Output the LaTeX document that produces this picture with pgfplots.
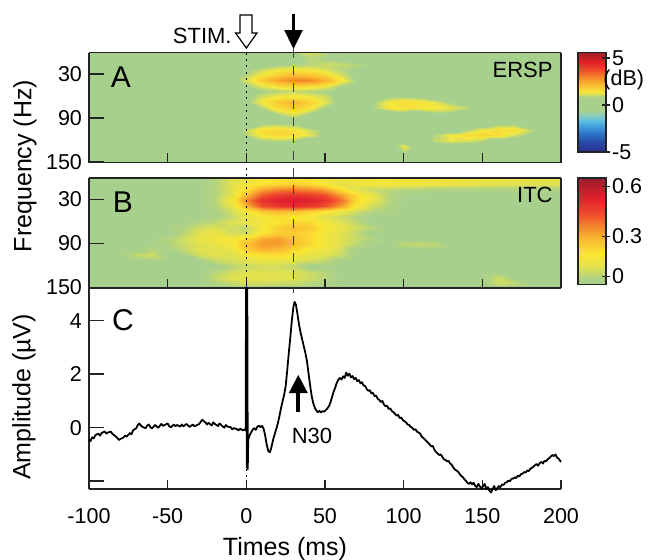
\documentclass[border=0pt]{standalone}
\usepackage{fontspec}
\setmainfont{Liberation Sans}
\usepackage{pgfplots}
\pgfplotsset{compat=1.18}
\definecolor{axgray}{RGB}{35,35,35}
\pgfplotsset{
  colormap={ersp}{rgb255(0pt)=(40,45,140) rgb255(10pt)=(40,75,170) rgb255(20pt)=(45,125,205) rgb255(30pt)=(80,185,230) rgb255(37pt)=(140,205,190) rgb255(41pt)=(168,208,141) rgb255(55pt)=(168,208,141) rgb255(60pt)=(245,232,60) rgb255(66pt)=(250,195,50) rgb255(74pt)=(245,145,40) rgb255(82pt)=(238,80,40) rgb255(90pt)=(228,35,40) rgb255(100pt)=(160,30,40)},
  colormap={itc}{rgb255(0pt)=(168,208,141) rgb255(4pt)=(178,211,128) rgb255(10pt)=(225,225,80) rgb255(17pt)=(250,230,50) rgb255(25pt)=(250,190,50) rgb255(32pt)=(245,140,45) rgb255(40pt)=(240,75,45) rgb255(48pt)=(225,35,45) rgb255(56pt)=(180,30,45) rgb255(60pt)=(150,30,45)},
  every axis/.append style={
    tick label style={font=\fontsize{10.75}{12}\selectfont},
    axis line style={draw=axgray, line width=0.75pt},
    tick style={draw=axgray, line width=0.75pt},
  },
}
\newcommand{\fs}[1]{\fontsize{#1}{#1}\selectfont}
\begin{document}
\begin{tikzpicture}
\path[use as bounding box] (0,0) rectangle (325pt,-279.5pt);
% ---------------- Panel A : ERSP ----------------
\begin{axis}[
  at={(44.5pt,-81.25pt)}, anchor=south west,
  width=236pt, height=55pt, scale only axis,
  view={0}{90},
  xmin=-100, xmax=200, ymin=-151, ymax=-1,
  colormap name=ersp, point meta min=-5, point meta max=5,
  axis on top, tick align=inside, tick pos=left,
  xtick={-100,-50,0,50,100,150,200}, xticklabels={{},{},{},{},{},{},{}},
  ytick={-150,-90,-30}, yticklabels={150,90,30},
  major tick length=4.75pt,
  ytick style={/pgfplots/major tick length=7.5pt},
  colorbar,
  colorbar style={
    at={([xshift=6.15pt,yshift=-0.4pt]parent axis.north east)}, anchor=north west,
    width=14pt, height=49.7pt, scale only axis,
    ytick={-5,-0.3,4.45}, yticklabels={-5,0,5},
    ytick pos=right, yticklabel pos=right, tick align=center,
    major tick length=4pt,
    yticklabel style={xshift=-2.5pt},
    axis line style={draw=axgray, line width=0.6pt},
  },
]
\addplot3[surf, shader=interp, mesh/cols=31] table[row sep=\\, x expr={-100+10*mod(\coordindex,31)}, y expr={-1-7.5*floor(\coordindex/31)}, z index=0] {
z\\
0\\0\\0\\0\\0\\0\\0\\0\\0\\0\\0\\0\\0\\0.5\\0.8\\0.6\\0\\0\\0\\0\\0\\0\\0\\0\\0\\0\\0\\0\\0\\0\\0\\
0\\0\\0\\0\\0\\0\\0\\0\\0\\0\\0\\0\\0\\0.4\\0.6\\0.5\\0.3\\0\\0\\0\\0\\0\\0\\0\\0\\0\\0\\0\\0\\0\\0\\
0\\0\\0\\0\\0\\0\\0\\0\\0\\0\\0\\0.2\\0.4\\0.5\\0.6\\0.7\\0.7\\0.6\\0.5\\0.3\\0\\0\\0\\0\\0\\0\\0\\0\\0\\0\\0\\
0\\0\\0\\0\\0\\0\\0\\0\\0\\0.2\\0.4\\0.7\\0.9\\1\\0.95\\0.8\\0.6\\0.5\\0.4\\0.2\\0\\0\\0\\0\\0\\0\\0\\0\\0\\0\\0\\
0\\0\\0\\0\\0\\0\\0\\0\\0\\0.3\\0.6\\1\\1.4\\1.7\\1.6\\1.3\\0.8\\0.4\\0.2\\0\\0\\0\\0\\0\\0\\0\\0\\0\\0\\0\\-0.6\\
0\\0\\0\\0\\0\\0\\0\\0\\0\\0.3\\0.8\\1.5\\2.1\\2.6\\2.5\\1.9\\1.1\\0.5\\0.2\\0\\0\\0\\0\\0\\0\\0\\0\\0\\0\\0\\-1.2\\
0\\0\\0\\0\\0\\0\\0\\0\\0\\0.2\\0.5\\0.9\\1.2\\1.3\\1.2\\1\\0.5\\0.2\\0\\0\\0\\0\\0\\0\\0\\0\\0\\0\\0\\0\\-0.4\\
0\\0\\0\\0\\0\\0\\0\\0\\0\\0\\0.3\\0.5\\0.6\\0.7\\0.6\\0.5\\0.3\\0\\0\\0\\0\\0\\0\\0\\0\\0\\0\\0\\0\\0\\0\\
0\\0\\0\\0\\0\\0\\0\\0\\0\\0\\0.3\\0.8\\1\\1.1\\1\\0.8\\0.3\\0\\0\\0.5\\0.6\\0.5\\0\\0\\0\\0\\0\\0\\0\\0\\0\\
0\\0\\0\\0\\0\\0\\0\\0\\0\\0\\0.4\\1\\1.5\\1.8\\1.4\\0.9\\0.3\\0\\0.5\\1\\1.2\\1.1\\0.9\\0.5\\0\\0\\0\\0\\0\\0\\0\\
0\\0\\0\\0\\0\\0\\0\\0\\0\\0\\0\\0.6\\1.2\\1.5\\1.1\\0.5\\0\\0\\0.5\\1\\1.1\\1.05\\1\\0.9\\0.7\\0\\0\\0\\0\\0\\0\\
0\\0\\0\\0\\0\\0\\0\\0\\0\\0\\0\\0\\0.7\\1\\0.6\\0\\0\\0\\0\\0\\0.4\\0\\0.5\\0.5\\0\\0\\0\\0\\0\\0\\0\\
0\\0\\0\\0\\0\\0\\0\\0\\0\\0\\0\\0\\0\\0.5\\0\\0\\0\\0\\0\\0\\0\\0\\0\\0\\0\\0\\0\\0\\0\\0\\0\\
0\\0\\0\\0\\0\\0\\0\\0\\0\\0\\0\\0.5\\0.6\\0.5\\0\\0\\0\\0\\0\\0\\0\\0\\0\\0\\0\\0\\0.5\\0.5\\0\\0\\0\\
0\\0\\0\\0\\0\\0\\0\\0\\0\\0\\0.7\\1.2\\1.3\\1.1\\0.8\\0.4\\0\\0\\0\\0\\0\\0\\0\\0\\0.6\\1\\1.2\\1.2\\0.7\\0\\0\\
0\\0\\0\\0\\0\\0\\0\\0\\0\\0\\0.6\\1.1\\1.3\\1.2\\0.9\\0.4\\0\\0\\0\\0\\0\\0\\0.6\\1\\1.2\\1.3\\1.2\\0.8\\0.4\\0\\0\\
0\\0\\0\\0\\0\\0\\0\\0\\0\\0\\0\\0.5\\0.6\\0.5\\0\\0\\0\\0\\0\\0\\0\\0\\0.7\\0.9\\0.8\\0.6\\0\\0\\0\\0\\0\\
0\\0\\0\\0\\0\\0\\0\\0\\0\\0\\0\\0\\0\\0\\0\\0\\0\\0\\0\\0\\0.95\\0\\0\\0\\0\\0\\0\\0\\0\\0\\0\\
0\\0\\0\\0\\0\\0\\0\\0\\0\\0\\0\\0\\0\\0\\0\\0\\0\\0\\0\\0\\0.6\\0\\0\\0\\0\\0\\0\\0\\0\\0\\0\\
0\\0\\0\\0\\0\\0\\0\\0\\0\\0\\0\\0\\0\\0\\0\\0\\0\\0\\0\\0\\0\\0\\0\\0\\0\\0\\0\\0\\0\\0\\0\\
0\\0\\0\\0\\0\\0\\0\\0\\0\\0\\0\\0\\0\\0\\0\\0\\0\\0\\0\\0\\0\\0\\0\\0\\0\\0\\0\\0\\0\\0\\0\\
};
\end{axis}
% ---------------- Panel B : ITC ----------------
\begin{axis}[
  at={(44.5pt,-144pt)}, anchor=south west,
  width=236pt, height=55pt, scale only axis,
  view={0}{90},
  xmin=-100, xmax=200, ymin=-151, ymax=-1,
  colormap name=itc, point meta min=0, point meta max=0.6,
  axis on top, tick align=inside, tick pos=left,
  xtick={-100,-50,0,50,100,150,200}, xticklabels={{},{},{},{},{},{},{}},
  ytick={-150,-90,-30}, yticklabels={150,90,30},
  major tick length=4.75pt,
  ytick style={/pgfplots/major tick length=7.5pt},
  colorbar,
  colorbar style={
    at={([xshift=6.15pt,yshift=3.15pt]parent axis.north east)}, anchor=north west,
    width=14pt, height=53.3pt, scale only axis,
    ytick={0.047,0.272,0.553}, yticklabels={0,0.3,0.6},
    ytick pos=right, yticklabel pos=right, tick align=center,
    major tick length=4pt,
    yticklabel style={xshift=-2.5pt},
    axis line style={draw=axgray, line width=0.6pt},
  },
]
\addplot3[surf, shader=interp, mesh/cols=31] table[row sep=\\, x expr={-100+10*mod(\coordindex,31)}, y expr={-1-7.5*floor(\coordindex/31)}, z index=0] {
z\\
0\\0\\0\\0\\0\\0\\0\\0\\0.05\\0.1\\0.12\\0.14\\0.16\\0.17\\0.16\\0.15\\0.13\\0.14\\0.15\\0.16\\0.16\\0.16\\0.15\\0.15\\0.14\\0.14\\0.13\\0.13\\0.12\\0.12\\0.12\\
0\\0\\0\\0\\0\\0\\0\\0\\0.04\\0.1\\0.14\\0.18\\0.2\\0.22\\0.2\\0.16\\0.12\\0.14\\0.15\\0.15\\0.14\\0.14\\0.13\\0.12\\0.12\\0.11\\0.11\\0.1\\0.1\\0.1\\0.1\\
0\\0\\0\\0\\0\\0\\0\\0\\0.04\\0.1\\0.18\\0.28\\0.32\\0.33\\0.32\\0.28\\0.18\\0.1\\0.07\\0.06\\0.05\\0.04\\0.03\\0.03\\0.03\\0.03\\0.03\\0.03\\0.03\\0.03\\0.03\\
0\\0\\0\\0\\0\\0\\0\\0\\0.04\\0.1\\0.25\\0.38\\0.43\\0.45\\0.43\\0.4\\0.3\\0.2\\0.12\\0.05\\0\\0\\0\\0\\0\\0\\0\\0\\0\\0\\0\\
0\\0\\0\\0\\0\\0\\0\\0\\0.05\\0.14\\0.32\\0.45\\0.49\\0.5\\0.49\\0.45\\0.36\\0.2\\0.12\\0.05\\0\\0\\0\\0\\0\\0\\0\\0\\0\\0\\0\\
0\\0\\0\\0\\0\\0\\0\\0\\0.04\\0.12\\0.26\\0.4\\0.44\\0.46\\0.44\\0.4\\0.3\\0.16\\0.08\\0.04\\0\\0\\0\\0\\0\\0\\0\\0\\0\\0\\0\\
0\\0\\0\\0\\0\\0\\0\\0\\0.03\\0.08\\0.16\\0.24\\0.26\\0.25\\0.22\\0.18\\0.12\\0.08\\0.04\\0.02\\0\\0\\0\\0\\0\\0\\0\\0\\0\\0\\0\\
0\\0\\0\\0\\0\\0\\0\\0\\0.03\\0.06\\0.12\\0.15\\0.18\\0.16\\0.15\\0.1\\0.07\\0.04\\0\\0\\0\\0\\0\\0\\0\\0\\0\\0\\0\\0\\0\\
0\\0\\0\\0\\0\\0\\0\\0.04\\0.06\\0.1\\0.12\\0.14\\0.17\\0.2\\0.2\\0.15\\0.1\\0.06\\0\\0\\0\\0\\0\\0\\0\\0\\0\\0\\0\\0\\0\\
0\\0\\0\\0\\0\\0\\0.04\\0.08\\0.1\\0.08\\0.06\\0.15\\0.22\\0.25\\0.23\\0.16\\0.12\\0.08\\0.05\\0\\0\\0\\0\\0\\0\\0\\0\\0\\0\\0\\0\\
0\\0\\0\\0\\0\\0\\0.05\\0.1\\0.13\\0.08\\0.08\\0.18\\0.22\\0.22\\0.2\\0.15\\0.1\\0.06\\0\\0\\0\\0\\0\\0\\0\\0\\0\\0\\0\\0\\0\\
0\\0\\0\\0\\0\\0.04\\0.08\\0.12\\0.14\\0.15\\0.2\\0.28\\0.3\\0.25\\0.2\\0.14\\0.1\\0.07\\0.04\\0\\0\\0\\0\\0\\0\\0\\0\\0\\0\\0\\0\\
0\\0\\0\\0\\0\\0.04\\0.07\\0.1\\0.12\\0.15\\0.25\\0.3\\0.3\\0.25\\0.2\\0.15\\0.1\\0.06\\0\\0\\0.06\\0.07\\0.06\\0\\0\\0\\0\\0\\0\\0\\0\\
0\\0\\0\\0\\0.05\\0\\0.06\\0.1\\0.1\\0.12\\0.22\\0.26\\0.25\\0.2\\0.15\\0.12\\0.08\\0\\0\\0\\0\\0\\0\\0\\0\\0\\0\\0\\0\\0\\0\\
0\\0\\0\\0.07\\0.08\\0\\0\\0.08\\0.1\\0.1\\0.15\\0.18\\0.18\\0.15\\0.12\\0.1\\0.07\\0\\0\\0\\0\\0\\0\\0\\0\\0\\0\\0\\0\\0\\0\\
0\\0\\0\\0\\0\\0\\0\\0\\0.06\\0.08\\0.1\\0.12\\0.12\\0.1\\0.08\\0.06\\0\\0\\0\\0\\0\\0\\0\\0\\0\\0\\0\\0\\0\\0\\0\\
0\\0\\0\\0\\0\\0\\0\\0\\0\\0.05\\0.07\\0.08\\0.08\\0.06\\0\\0\\0\\0\\0\\0\\0\\0\\0\\0\\0\\0\\0\\0\\0\\0\\0\\
0\\0\\0\\0\\0\\0\\0\\0\\0.05\\0.08\\0.1\\0.1\\0.1\\0.09\\0.07\\0.05\\0\\0\\0\\0\\0\\0\\0\\0\\0\\0\\0\\0\\0\\0\\0\\
0\\0\\0\\0\\0\\0\\0\\0\\0.07\\0.1\\0.11\\0.11\\0.1\\0.1\\0.08\\0.05\\0\\0\\0\\0\\0\\0\\0\\0\\0\\0\\0.07\\0\\0\\0\\0\\
0\\0\\0\\0\\0\\0\\0\\0\\0.04\\0.07\\0.08\\0.08\\0.08\\0.07\\0.05\\0.03\\0\\0\\0\\0\\0\\0\\0\\0\\0\\0\\0.08\\0.06\\0\\0\\0\\
0\\0\\0\\0\\0\\0\\0\\0\\0\\0\\0.03\\0.03\\0\\0\\0\\0\\0\\0\\0\\0\\0\\0\\0\\0\\0\\0\\0\\0\\0\\0\\0\\
};
\end{axis}
% ---------------- Panel C : ERP ----------------
\begin{axis}[
  at={(44.5pt,-244.5pt)}, anchor=south west,
  width=236pt, height=100.5pt, scale only axis,
  xmin=-100, xmax=200, ymin=-2.292, ymax=5.222,
  axis lines*=left, axis line style={-},
  clip=false, tick align=inside,
  xtick={-100,-50,0,50,100,150,200}, xticklabels={-100,-50,0,50,100,150,200},
  ytick={-2,0,2,4}, yticklabels={,0,2,4},
  major tick length=4.75pt,
  ytick style={/pgfplots/major tick length=7.5pt},
  xticklabel style={yshift=-6pt},
]
\addplot[black, line width=0.9pt, line join=round] coordinates {
(-100,-0.45) (-99,-0.5) (-98,-0.36) (-97,-0.4) (-96,-0.28) (-94,-0.22) (-93,-0.3) (-92,-0.2) (-90,-0.14) (-89,-0.22) (-88,-0.18) (-86,-0.15) (-85,-0.24) (-84,-0.28) (-82,-0.38) (-81,-0.46) (-80,-0.42) (-78,-0.36) (-77,-0.3) (-76,-0.33) (-74,-0.2) (-73,-0.25) (-72,-0.1) (-70,-0.02) (-69,0.1) (-68,0.16) (-67,0.08) (-66,0.03) (-64,-0.02) (-63,0.08) (-62,0.12) (-61,0.02) (-60,-0.03) (-58,0.1) (-57,0.04) (-56,0.0) (-54,0.14) (-53,0.07) (-52,0.1) (-50,0.16) (-49,0.05) (-48,0.02) (-46,0.12) (-45,0.06) (-44,0.1) (-42,0.04) (-41,0.12) (-40,0.05) (-38,0.14) (-37,0.08) (-36,0.03) (-34,0.12) (-33,0.05) (-32,0.08) (-30,0.14) (-29,0.22) (-28,0.3) (-27,0.24) (-26,0.2) (-25,0.12) (-24,0.18) (-22,0.08) (-21,0.2) (-20,0.14) (-18,0.06) (-17,0.16) (-16,0.1) (-14,0.0) (-13,0.1) (-12,0.04) (-10,0.02) (-9,-0.06) (-8,-0.02) (-6,-0.05) (-5,-0.1) (-4,-0.04) (-2,-0.1) (-1,-0.06) (-0.4,-0.1)
(-0.2,5.222) (0.3,-1.5) (0.6,5.222) (0.9,-1.55) (1.2,-0.45) (2,-0.3) (3,-0.18) (4,-0.08) (5,-0.02) (6,-0.08) (7,0.04) (8,0.08) (9,0.02) (10,0.07) (11,-0.04) (12,-0.3) (13,-0.65) (14,-0.88) (15,-0.92) (16,-0.72) (17,-0.45) (18,-0.25) (19,-0.05) (20,0.15) (21,0.42) (22,0.72) (23,0.98) (24,1.22) (25,1.55) (26,2.15) (27,2.8) (28,3.4) (29,4.05) (30,4.55) (30.7,4.7) (31.5,4.6) (32.5,4.25) (33.5,3.85) (34.5,3.55) (35.5,3.3) (36.5,3.05) (37.5,2.8) (38.5,2.5) (39.5,2.05) (40.5,1.6) (41.5,1.2) (42.5,0.92) (43.5,0.75) (44.5,0.64) (45.5,0.58) (46.5,0.63) (47.5,0.57) (48.5,0.62) (49.5,0.6) (50.5,0.66) (51.5,0.72) (52.5,0.8) (53.5,0.95) (54.5,1.15) (55.5,1.35) (56.5,1.5) (57.5,1.68) (58.5,1.8) (59.5,1.86) (60.5,1.8) (61.5,1.92) (62.5,1.86) (63.5,2.06) (64.5,1.94) (65.5,2.02) (66.5,1.88) (67.5,1.93) (68.5,1.82) (69.5,1.86) (70.5,1.74) (71.5,1.78) (72.5,1.66) (73.5,1.7) (74.5,1.58) (75.5,1.56) (76.5,1.45) (77.5,1.38) (78.5,1.4) (79.5,1.28) (80.5,1.3) (81.5,1.18) (82.5,1.2) (83.5,1.08) (84.5,1.04) (85.5,0.96) (86.5,1.0) (87.5,0.86) (88.5,0.8) (89.5,0.82) (90.5,0.7) (91.5,0.72) (92.5,0.62) (93.5,0.58) (94.5,0.52) (95.5,0.45) (96.5,0.48) (97.5,0.36) (98.5,0.38) (99.5,0.28) (100.5,0.24) (101.5,0.2) (102.5,0.12) (103.5,0.1) (104.5,0.03) (105.5,0.0) (106.5,-0.08) (107.5,-0.06) (108.5,-0.15) (109.5,-0.18) (110.5,-0.22) (111.5,-0.34) (112.5,-0.38) (113.5,-0.44) (114.5,-0.5) (115.5,-0.56) (116.5,-0.62) (117.5,-0.7) (118.5,-0.68) (119.5,-0.82) (120.5,-0.9) (121.5,-0.96) (122.5,-1.02) (123.5,-1.0) (124.5,-1.08) (125.5,-1.18) (126.5,-1.2) (127.5,-1.26) (128.5,-1.24) (129.5,-1.34) (130.5,-1.38) (131.5,-1.48) (132.5,-1.56) (133.5,-1.6) (134.5,-1.64) (135.5,-1.72) (136.5,-1.8) (137.5,-1.84) (138.5,-1.92) (139.5,-1.98) (140.5,-2.06) (141.5,-2.1) (142.5,-2.04) (143.5,-2.12) (144.5,-2.06) (145.5,-2.18) (146.5,-2.22) (147.5,-2.1) (148.5,-2.2) (149.5,-2.28) (150.5,-2.18) (151.5,-2.1) (152.5,-2.3) (153.5,-2.22) (154.5,-2.36) (155.5,-2.42) (156.5,-2.3) (157.5,-2.18) (158.5,-2.34) (159.5,-2.26) (160.5,-2.18) (161.5,-2.22) (162.5,-2.12) (163.5,-2.14) (164.5,-2.06) (165.5,-2.04) (166.5,-1.98) (167.5,-2.0) (168.5,-1.92) (169.5,-1.9) (170.5,-1.86) (171.5,-1.88) (172.5,-1.8) (173.5,-1.82) (174.5,-1.74) (175.5,-1.72) (176.5,-1.66) (177.5,-1.68) (178.5,-1.6) (179.5,-1.62) (180.5,-1.54) (181.5,-1.5) (182.5,-1.46) (183.5,-1.4) (184.5,-1.36) (185.5,-1.42) (186.5,-1.32) (187.5,-1.28) (188.5,-1.34) (189.5,-1.24) (190.5,-1.26) (191.5,-1.18) (192.5,-1.14) (193.5,-1.08) (194.5,-1.02) (195.5,-1.06) (196.5,-1.0) (197.5,-1.12) (198.5,-1.16) (199.5,-1.24) (200,-1.28)
};
\end{axis}
% ---------------- annotations ----------------
\draw[black, line width=0.8pt, dash pattern=on 1pt off 2.2pt] (123.17pt,-26.25pt) -- (123.17pt,-244.5pt);
\draw[black!75, line width=0.8pt, dash pattern=on 4.5pt off 4pt] (146.77pt,-24.5pt) -- (146.77pt,-146.5pt);
% STIM hollow arrow
\draw[black, fill=white, line width=0.6pt, line join=miter] (120pt,-7.5pt) -- (126pt,-7.5pt) -- (126pt,-16.5pt) -- (128.5pt,-16.5pt) -- (123.17pt,-24pt) -- (117.8pt,-16.5pt) -- (120pt,-16.5pt) -- cycle;
% black arrow at 30 ms
\draw[black, line width=1.6pt] (146.77pt,-7pt) -- (146.77pt,-16pt);
\fill[black] (142.1pt,-15pt) -- (151.4pt,-15pt) -- (146.77pt,-24.5pt) -- cycle;
% N30 arrow
\draw[black, line width=2pt] (149.15pt,-196pt) -- (149.15pt,-206pt);
\fill[black] (144.4pt,-196.5pt) -- (153.9pt,-196.5pt) -- (149.15pt,-187.5pt) -- cycle;
% texts
\node[anchor=base east, inner sep=0pt, font=\fs{11}] at (116pt,-21.5pt) {STIM.};
\node[anchor=base, inner sep=0pt, font=\fs{11}] at (156pt,-221.5pt) {N30};
\node[anchor=base, inner sep=0pt, font=\fs{15}] at (60.5pt,-43.5pt) {A};
\node[anchor=base, inner sep=0pt, font=\fs{15}] at (61.5pt,-106pt) {B};
\node[anchor=base, inner sep=0pt, font=\fs{15}] at (61.5pt,-165pt) {C};
\node[anchor=base east, inner sep=0pt, font=\fs{11}] at (276.5pt,-38.5pt) {ERSP};
\node[anchor=base east, inner sep=0pt, font=\fs{11}] at (276.5pt,-101pt) {ITC};
\node[anchor=base west, inner sep=0pt, font=\fs{10.75}] at (301.5pt,-42.75pt) {(dB)};
\node[rotate=90, inner sep=0pt, font=\fs{12.5}] at (12.5pt,-83pt) {Frequency (Hz)};
\node[rotate=90, inner sep=0pt, font=\fs{12.5}] at (12pt,-198.5pt) {Amplitude (µV)};
\node[anchor=base, inner sep=0pt, font=\fs{12.5}] at (142.5pt,-277.7pt) {Times (ms)};
\end{tikzpicture}
\end{document}
